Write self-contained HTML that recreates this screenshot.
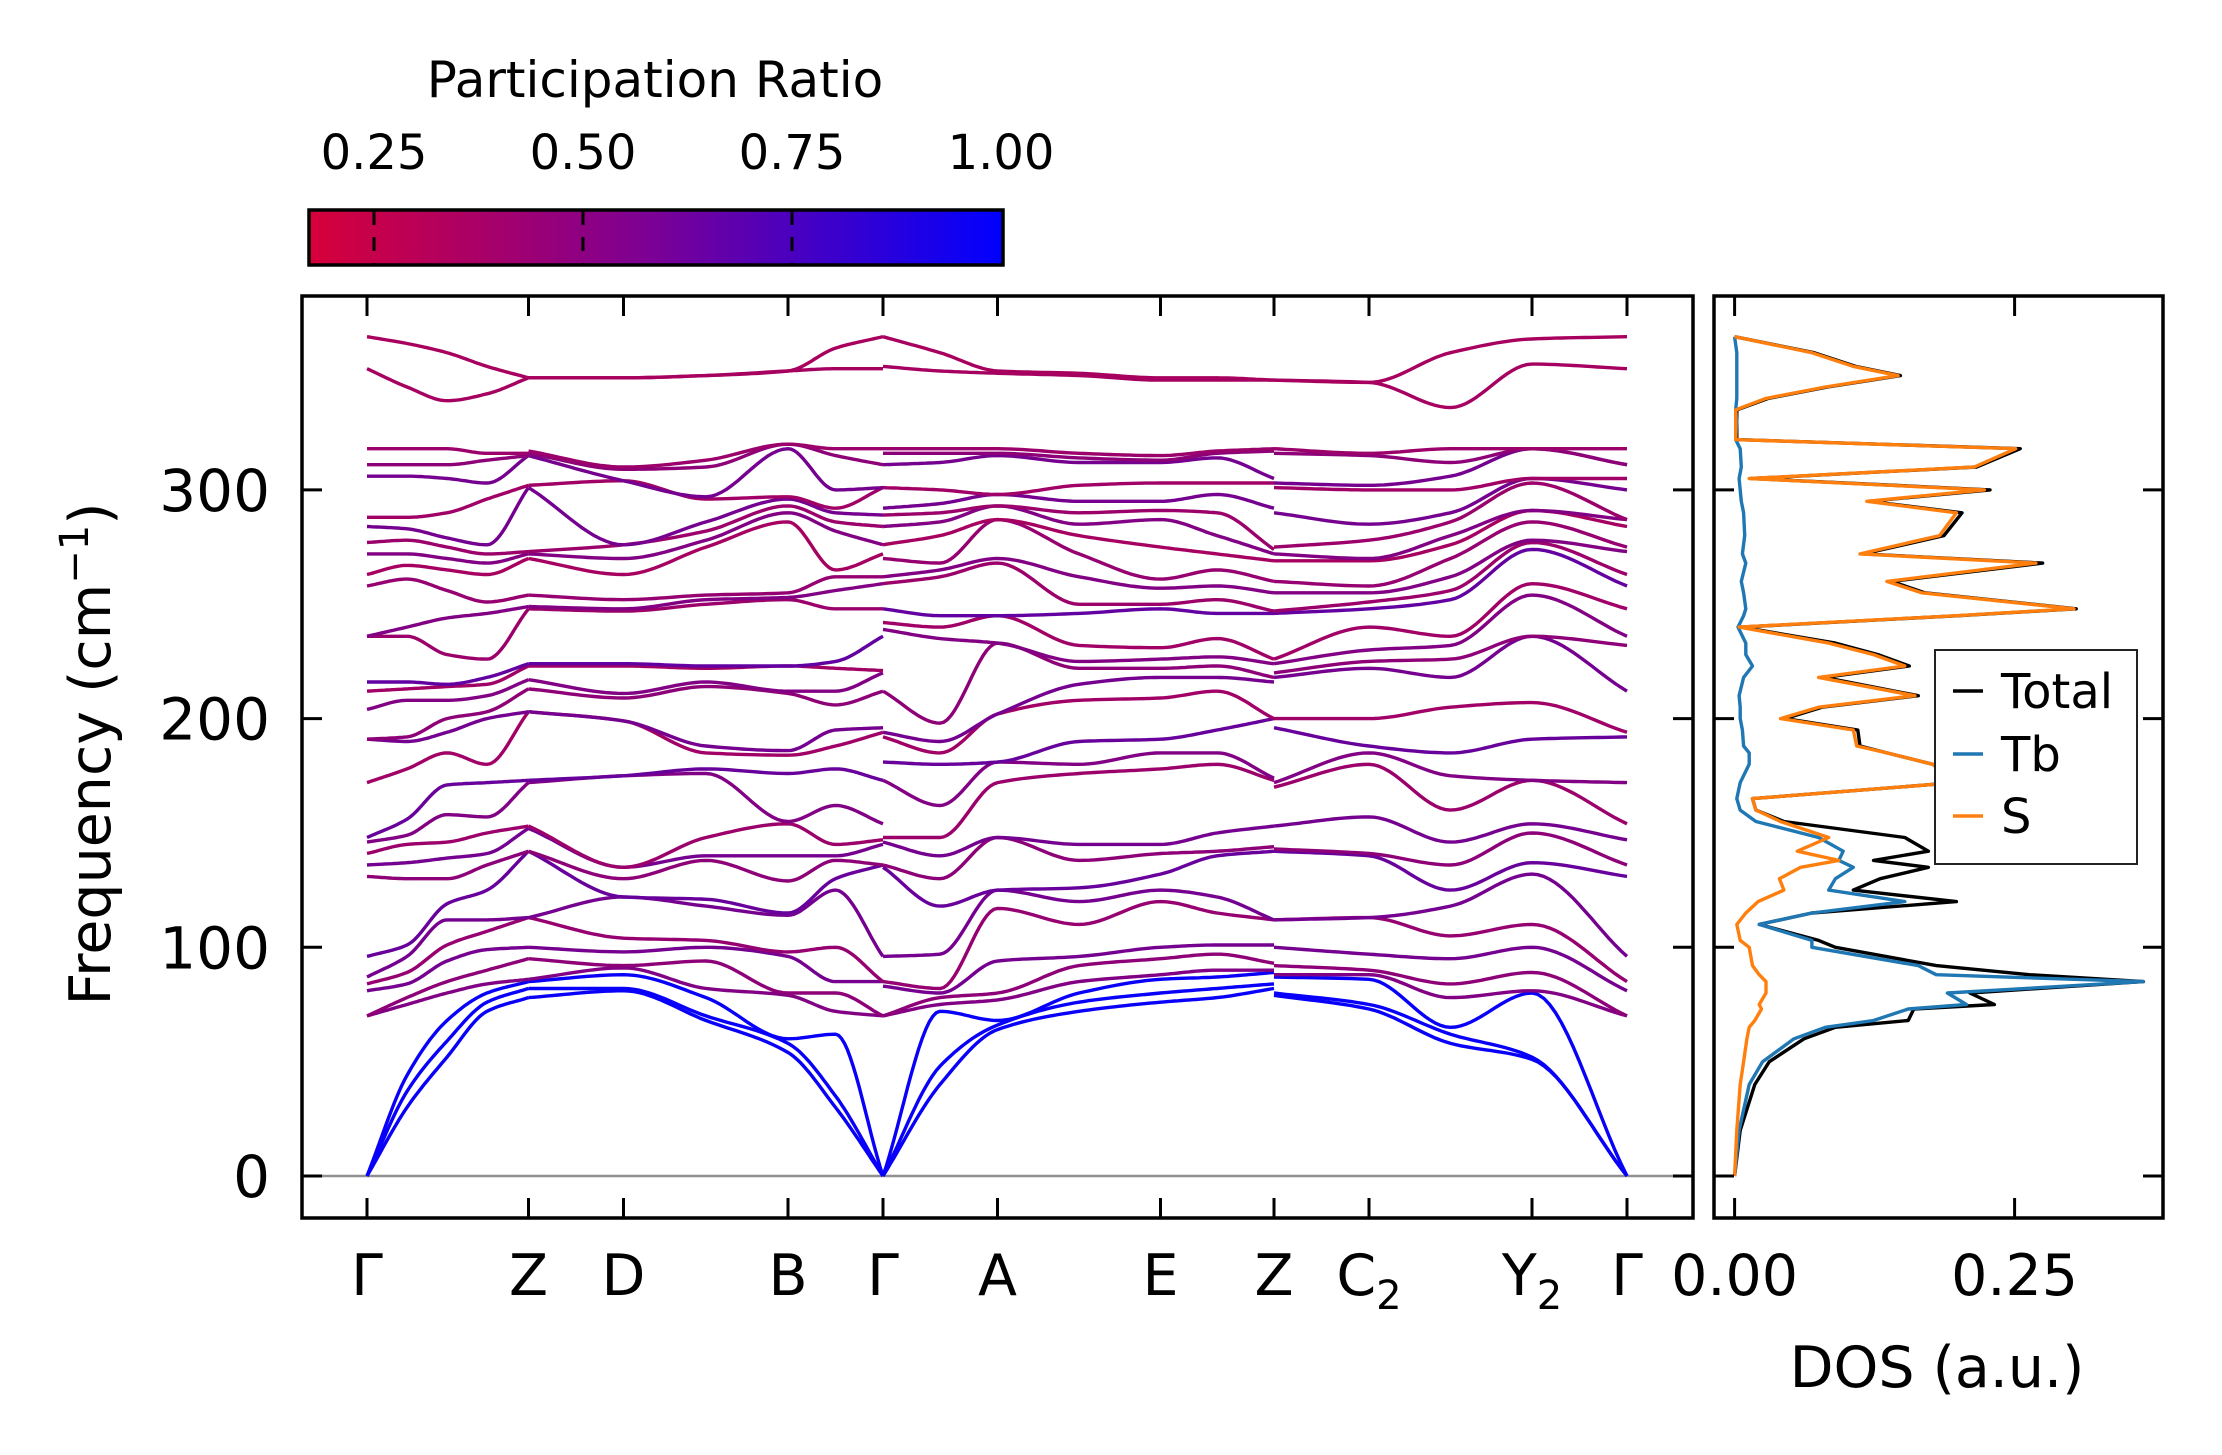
<!DOCTYPE html>
<html><head><meta charset="utf-8"><style>
html,body{margin:0;padding:0;background:#fff;}
svg{display:block;font-family:"DejaVu Sans","Liberation Sans",sans-serif;}
</style></head><body>
<svg id="fig" width="2222" height="1455" viewBox="0 0 2222 1455" xmlns="http://www.w3.org/2000/svg">
<defs>
<linearGradient id="cbgrad" x1="0" x2="1" y1="0" y2="0">
<stop offset="0" stop-color="#d7003a"/><stop offset="0.5" stop-color="#7a0096"/><stop offset="1" stop-color="#0000ff"/>
</linearGradient>
<clipPath id="mainclip"><rect x="302" y="296" width="1391" height="922"/></clipPath>
<clipPath id="dosclip"><rect x="1714" y="296" width="449" height="922"/></clipPath>
</defs>
<g id="colorbar">
<text x="655" y="97" font-size="50" text-anchor="middle">Participation Ratio</text>
<rect x="309" y="210" width="694" height="55" fill="url(#cbgrad)" stroke="#000" stroke-width="3.5"/>
</g>
<g id="bands" clip-path="url(#mainclip)"></g>
<g id="dos" clip-path="url(#dosclip)"></g>
<g id="axes"></g>
<text transform="translate(110,754) rotate(-90)" font-size="57" text-anchor="middle">Frequency (cm<tspan font-size="40" dy="-22">−1</tspan><tspan dy="22">)</tspan></text>
<text x="1937" y="1387" font-size="57" text-anchor="middle">DOS (a.u.)</text>
<g>
<rect x="1935" y="650" width="202" height="214" fill="#fff" stroke="#222" stroke-width="2"/>
<line x1="1953" x2="1983" y1="691" y2="691" stroke="#000" stroke-width="3.5"/>
<text x="2001" y="708" font-size="48">Total</text>
<line x1="1953" x2="1983" y1="754" y2="754" stroke="#1f77b4" stroke-width="3.5"/>
<text x="2001" y="771" font-size="48">Tb</text>
<line x1="1953" x2="1983" y1="816" y2="816" stroke="#ff7f0e" stroke-width="3.5"/>
<text x="2001" y="833" font-size="48">S</text>
</g>
</svg>
<script>
// ---------- data ----------
const kLabels = ["Γ","Z","D","B","Γ","A","E","Z","C","Y","Γ"];
const kSubs = ["","","","","","","","","2","2",""];
const kDist = [0,1.615,2.565,4.21,5.16,6.305,7.935,9.07,10.02,11.65,12.60];
const freqTicks = [0,100,200,300];
const cbTicks = [0.25,0.50,0.75,1.00];
const dosTicks = [0,0.25];

const piece1K = [0,0.4,0.8,1.2,1.615];
const piece1 = [
[0,0,0,70,70,81,84,87,96,131,136,141,146,148,172,191,191,204,212,216,236,236,258,263,272,277,284,288,306,311,318,353,367],
[30,37,44,75,78,84,89,96,101,130,137,145,149,156,178,190,192,208,213,216,236,240,261,267,272,278,283,288,306,311,318,345,364],
[52,59,68,80,85,94,101,112,119,130,139,146,158,171,185,194,200,208,214,215,228,244,256,265,270,275,279,290,305,311,318,339,360],
[72,76,80,84,90,99,107,112,125,136,141,150,157,172,180,200,203,210,215,218,226,246,251,263,268,272,276,296,303,313,316,342,354],
[78,82,85,86,95,100,113,113,142,142,152,153,172,173,203,203,213,217,223,224,248,249,254,270,272,273,301,302,315,315,316,349,349]];
const piece2K = [1.615,2.565,3.39,4.21,4.685,5.16];
const piece2 = [
[78,82,85,86,95,100,113,113,142,142,152,153,172,173,203,203,213,217,223,224,248,249,254,270,272,273,301,302,315,316,317,349,349],
[81,82,88,91,92,98,104,122,122,130,135,135,175,175,199,199,209,211,223,224,247,248,252,263,270,276,276,304,304,309,310,349,349],
[68,70,78,82,94,100,103,118,121,138,140,148,176,178,185,188,214,216,222,223,250,252,254,275,278,282,286,296,297,310,313,350,350],
[54,58,60,79,80,96,98,114,115,129,140,154,155,176,184,186,211,212,223,223,252,253,255,286,290,293,296,297,318,320,320,352,352],
[30,35,62,72,80,85,100,125,130,138,140,145,162,178,188,195,206,212,222,225,248,256,262,265,282,286,290,292,300,315,318,353,362],
[0,0,0,70,70,85,85,96,136,136,145,147,154,173,194,196,212,220,221,236,248,259,262,272,276,284,289,301,301,311,318,353,367]];
const piece3K = [5.16,5.73,6.305,7.12,7.935,8.5,9.07];
const piece3 = [
[0,0,0,70,70,83,85,96,135,136,146,148,173,181,192,194,212,239,242,248,259,262,270,276,284,289,292,301,311,316,318,354,367],
[40,48,72,75,78,80,82,97,118,130,140,148,162,180,185,190,198,235,240,245,262,265,268,280,286,290,294,300,312,316,318,352,360],
[64,66,68,77,80,94,117,125,125,148,148,172,181,181,202,202,233,233,245,245,268,270,287,287,293,293,298,298,315,316,318,351,352],
[72,76,80,85,92,96,110,120,126,138,145,176,180,190,208,215,222,225,232,246,250,262,272,280,285,290,295,302,312,314,316,350,351],
[76,80,86,88,95,100,120,125,132,141,145,178,185,191,209,218,222,226,231,248,250,257,261,275,287,291,295,303,312,313,315,348,349],
[78,82,87,90,97,101,115,122,140,142,150,180,185,195,212,218,223,227,235,246,252,258,265,272,280,290,298,303,314,316,317,348,349],
[82,84,89,90,93,101,112,112,142,144,153,173,174,200,200,216,218,224,226,246,247,255,260,269,272,274,292,303,305,317,318,348,348]];
const piece4K = [9.07,10.02,10.835,11.65,12.6];
const piece4 = [
[79,80,87,88,92,100,112,112,142,143,153,170,172,196,200,218,220,224,226,246,247,255,260,269,272,275,290,301,303,316,318,348,348],
[73,75,86,88,90,97,113,113,140,141,157,180,185,188,200,222,225,230,240,248,251,255,258,269,270,278,285,300,302,315,316,347,347],
[58,62,65,78,84,95,105,118,125,136,146,160,175,185,205,218,226,232,236,252,256,262,270,276,280,286,290,300,306,312,318,336,360],
[51,52,80,81,89,100,110,132,137,150,154,173,173,191,207,236,236,254,259,274,277,278,286,291,291,303,305,305,318,318,318,355,366],
[0,0,0,70,70,81,85,96,131,136,147,154,172,192,194,212,232,236,248,258,263,273,275,284,287,287,300,305,311,311,318,353,367]];
const prBand = [0.97,0.97,0.97,0.5,0.45,0.55,0.42,0.55,0.6,0.45,0.55,0.4,0.5,0.6,0.38,0.55,0.45,0.5,0.38,0.62,0.4,0.5,0.42,0.36,0.5,0.4,0.55,0.38,0.55,0.45,0.4,0.36,0.35];

const dosFreq = [0,20,40,50,60,65,68,73,75,80,85,88,92,100,103,110,115,120,125,130,135,138,142,148,155,160,165,172,180,185,188,195,200,205,210,218,223,228,233,240,245,248,255,260,268,272,280,290,295,300,305,310,318,322,330,335,340,345,350,354,360,367];
const dosTb = [0,.004,.013,.025,.053,.081,.124,.155,.207,.19,.365,.18,.164,.069,.069,.022,.069,.152,.084,.09,.106,.093,.097,.075,.019,.005,.002,.005,.013,.013,.008,.007,.005,.005,.004,.008,.016,.010,.010,.003,.008,.010,.008,.006,.010,.007,.009,.008,.006,.005,.004,.006,.005,.001,.002,.001,.002,.002,.002,.002,.002,0];
const dosS = [0,.002,.005,.008,.011,.013,.018,.024,.022,.028,.028,.022,.016,.013,.005,.002,.010,.021,.044,.04,.059,.093,.056,.084,.041,.019,.016,.198,.177,.136,.109,.106,.041,.075,.161,.075,.152,.124,.084,.004,.198,.303,.167,.136,.269,.112,.183,.198,.118,.223,.013,.214,.251,.001,.001,.001,.028,.081,.146,.106,.069,0];
const dosTotal = [0,.005,.018,.031,.062,.09,.155,.16,.232,.21,.365,.263,.18,.09,.075,.022,.069,.198,.106,.13,.173,.124,.173,.152,.044,.019,.016,.198,.177,.136,.112,.11,.045,.078,.164,.08,.156,.128,.09,.006,.2,.305,.17,.14,.275,.115,.187,.203,.12,.228,.015,.216,.255,.002,.002,.002,.03,.083,.148,.108,.071,0];

// ---------- scales ----------
const NS="http://www.w3.org/2000/svg";
const xK = k => 367 + (k/12.60)*(1627-367);
const yF = f => 1176 - f*2.287;
const xD = v => 1734.6 + v*1120;
const xCB = p => 374 + (p-0.25)*(209/0.25);
function cmap(pr){
  let t=(pr-0.17)/0.83; t=Math.max(0,Math.min(1,t));
  const r=Math.round(215*(1-t)), g=0, b=Math.round(50+205*t);
  return `rgb(${r},${g},${b})`;
}
function mk(tag,attrs,parent){const e=document.createElementNS(NS,tag);for(const k in attrs)e.setAttribute(k,attrs[k]);parent.appendChild(e);return e;}

function monotone(xs,ys,n){
  const m=xs.length,d=[],s=[];
  for(let i=0;i<m-1;i++)d.push((ys[i+1]-ys[i])/(xs[i+1]-xs[i]));
  s[0]=d[0];s[m-1]=d[m-2];
  for(let i=1;i<m-1;i++){ if(d[i-1]*d[i]<=0)s[i]=0; else s[i]=2/(1/d[i-1]+1/d[i]); }
  const pts=[];
  for(let i=0;i<m-1;i++){
    const h=xs[i+1]-xs[i];
    for(let j=0;j<n;j++){
      const t=j/n,h00=2*t*t*t-3*t*t+1,h10=t*t*t-2*t*t+t,h01=-2*t*t*t+3*t*t,h11=t*t*t-t*t;
      pts.push([xs[i]+t*h, h00*ys[i]+h10*h*s[i]+h01*ys[i+1]+h11*h*s[i+1]]);
    }
  }
  pts.push([xs[m-1],ys[m-1]]);
  return pts;
}

// ---------- bands ----------
const bandG=document.getElementById('bands');
const zl=mk('line',{x1:302,x2:1693,y1:yF(0),y2:yF(0),stroke:'#909090','stroke-width':2.5},bandG);


[[piece1K,piece1],[piece2K,piece2],[piece3K,piece3],[piece4K,piece4]].forEach((pc,pi)=>{
  const ks=pc[0],cols=pc[1];
  const nb=cols[0].length;
  for(let b=0;b<nb;b++){
    const ys=cols.map(c=>c[b]);
    const pts=monotone(ks,ys,16);
    const d=pts.map((p,i)=>(i?'L':'M')+xK(p[0]).toFixed(1)+' '+yF(p[1]).toFixed(1)).join('');
    const pr=prBand[b]!==undefined?prBand[b]:0.5;
    const path=mk('path',{d:d,fill:'none',stroke:cmap(pr),'stroke-width':3.4},bandG);
    
    
  }
});

// ---------- DOS ----------
const dosG=document.getElementById('dos');
[[dosTotal,'#000','dos-total'],[dosTb,'#1f77b4','dos-tb'],[dosS,'#ff7f0e','dos-s']].forEach(s=>{
  const d=s[0].map((v,i)=>(i?'L':'M')+xD(v).toFixed(1)+' '+yF(dosFreq[i]).toFixed(1)).join('');
  const p=mk('path',{d:d,fill:'none',stroke:s[1],'stroke-width':3.4,'stroke-linejoin':'round'},dosG);
  
  
});

// ---------- axes ----------
const ax=document.getElementById('axes');
const f1=mk('rect',{x:302,y:296,width:1391,height:922,fill:'none',stroke:'#000','stroke-width':3.5},ax);


const f2=mk('rect',{x:1714,y:296,width:449,height:922,fill:'none',stroke:'#000','stroke-width':3.5},ax);


kDist.forEach((k,i)=>{
  const x=xK(k);
  mk('line',{x1:x,x2:x,y1:296,y2:316,stroke:'#000','stroke-width':3},ax);
  mk('line',{x1:x,x2:x,y1:1218,y2:1198,stroke:'#000','stroke-width':3},ax);
  const t=mk('text',{x:x,y:1295,'font-size':57,'text-anchor':'middle'},ax);
  
  
  t.textContent=kLabels[i];
  if(kSubs[i]){const s=mk('tspan',{'font-size':40,dy:14},t);s.textContent=kSubs[i];}
});
freqTicks.forEach(f=>{
  const y=yF(f);
  [[302,322],[1693,1673],[1714,1734],[2163,2143]].forEach(p=>mk('line',{x1:p[0],x2:p[1],y1:y,y2:y,stroke:'#000','stroke-width':3},ax));
  const t=mk('text',{x:270,y:y+21,'font-size':58,'text-anchor':'end'},ax);
  
  
  t.textContent=f;
});
dosTicks.forEach(v=>{
  const x=xD(v);
  mk('line',{x1:x,x2:x,y1:296,y2:316,stroke:'#000','stroke-width':3},ax);
  mk('line',{x1:x,x2:x,y1:1218,y2:1198,stroke:'#000','stroke-width':3},ax);
  const t=mk('text',{x:x,y:1295,'font-size':57,'text-anchor':'middle'},ax);
  
  
  t.textContent=v.toFixed(2);
});
const cb=document.getElementById('colorbar');
cbTicks.forEach(p=>{
  const x=xCB(p);
  if(p<1) mk('line',{x1:x,x2:x,y1:211,y2:264,stroke:'#000','stroke-width':3,'stroke-dasharray':'14 12'},cb);
  const t=mk('text',{x:x,y:169,'font-size':48,'text-anchor':'middle'},cb);
  
  
  t.textContent=p.toFixed(2);
});
</script>
</body></html>
